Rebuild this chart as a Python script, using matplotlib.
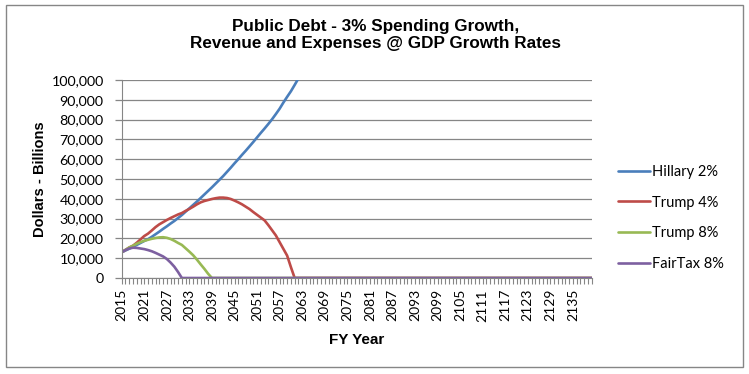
import numpy as np
import matplotlib
matplotlib.use('Agg')
import matplotlib.pyplot as plt
from matplotlib.patches import Rectangle
from matplotlib.ticker import FuncFormatter, MultipleLocator

# years on the category axis
years = list(range(2015, 2141))

# public debt, billions
hillary_2 = [13000, 13900, 14800, 15800, 16700, 17700, 18700, 19600, 20800, 22100,
             23400, 24800, 26100, 27500, 28800, 30300, 31800, 33500, 35200, 36900,
             38600, 40400, 42200, 44000, 45800, 47700, 49600, 51500, 53600, 55700,
             57900, 60000, 62200, 64300, 66500, 68700, 71000, 73300, 75500, 77800,
             80200, 82800, 85500, 88600, 91500, 94300, 97500, 100800, 103900]
trump_4 = [13000, 14200, 15400, 16300, 17800, 19500, 21200, 22400, 24000, 25700,
           27100, 28200, 29300, 30300, 31200, 32100, 32800, 33900, 34900, 36000,
           37200, 38200, 38900, 39400, 39900, 40300, 40600, 40600, 40400, 39900,
           39100, 38200, 37200, 36000, 34800, 33300, 31900, 30500, 29100, 26700,
           24100, 21500, 18100, 14700, 11300, 5500, 0]
trump_8 = [13000, 14200, 15400, 16300, 17300, 18100, 18800, 19300, 19800, 20200,
           20500, 20600, 20300, 19700, 18800, 17700, 16700, 15000, 13300, 11500,
           9300, 6900, 4600, 2100, 0]
fairtax_8 = [13000, 14100, 14900, 15300, 15200, 14900, 14600, 14100, 13500, 12700,
             11800, 10900, 9600, 7800, 5700, 3000, 0]

series = [
    ('Hillary 2%', hillary_2, '#4A7EBB', False),
    ('Trump 4%', trump_4, '#BE4B48', True),
    ('Trump 8%', trump_8, '#98B954', True),
    ('FairTax 8%', fairtax_8, '#7D60A0', True),
]

fig = plt.figure(figsize=(7.49, 3.74), dpi=100)
ax = fig.add_axes([121.7 / 749, 1 - 278 / 374, 470 / 749, 198 / 374])

x = np.arange(len(years))
for name, vals, color, pad_zero in series:
    y = np.full(len(years), np.nan)
    n = min(len(vals), len(years))
    y[:n] = vals[:n]
    if pad_zero:
        y[n:] = 0
    ax.plot(x, y, color=color, lw=1.9, label=name, solid_capstyle='round')

ax.set_xlim(0, len(years) - 1)
ax.set_ylim(0, 100000)
ax.yaxis.set_major_locator(MultipleLocator(10000))
ax.yaxis.set_major_formatter(FuncFormatter(lambda v, p: f'{int(v):,}'))
ax.grid(axis='y', color='#868686', lw=0.9)
ax.set_axisbelow(True)

ax.set_xticks(x[::6])
ax.set_xticklabels([str(yy) for yy in years[::6]], rotation=90)
ax.set_xticks(x, minor=True)

for s in ['top', 'right']:
    ax.spines[s].set_visible(False)
ax.spines['left'].set_color('#868686')
ax.spines['bottom'].set_color('#868686')
ax.tick_params(axis='y', colors='#868686', length=5, width=0.9, labelcolor='black',
               labelsize=10.3, pad=8)
ax.tick_params(axis='x', which='both', colors='#868686', length=4, width=0.8,
               labelcolor='black', labelsize=10, pad=4)
for lbl in ax.get_xticklabels() + ax.get_yticklabels():
    lbl.set_family('Lato')

ax.set_ylabel('Dollars - Billions', fontsize=10.5, fontweight='bold',
              family='Liberation Sans', labelpad=3)
ax.set_xlabel('FY Year', fontsize=11, fontweight='bold', family='Liberation Sans',
              labelpad=8)

fig.text(376 / 749, 1 - 35 / 374,
         'Public Debt - 3% Spending Growth,\nRevenue and Expenses @ GDP Growth Rates',
         ha='center', va='center', fontsize=12.3, fontweight='bold',
         family='Liberation Sans', linespacing=1.1)

leg = fig.legend(loc='upper left', bbox_to_anchor=(612 / 749, 1 - 159 / 374),
                 frameon=False, prop={'family': 'Lato', 'size': 10.5},
                 handlelength=2.2, handletextpad=0.15, labelspacing=1.15,
                 borderaxespad=0)

fig.patches.append(Rectangle((6 / 749, 1 - 367 / 374), 737 / 749, 362 / 374,
                             transform=fig.transFigure, fill=False,
                             edgecolor='#868686', lw=1))

plt.savefig('out.png', dpi=100)
